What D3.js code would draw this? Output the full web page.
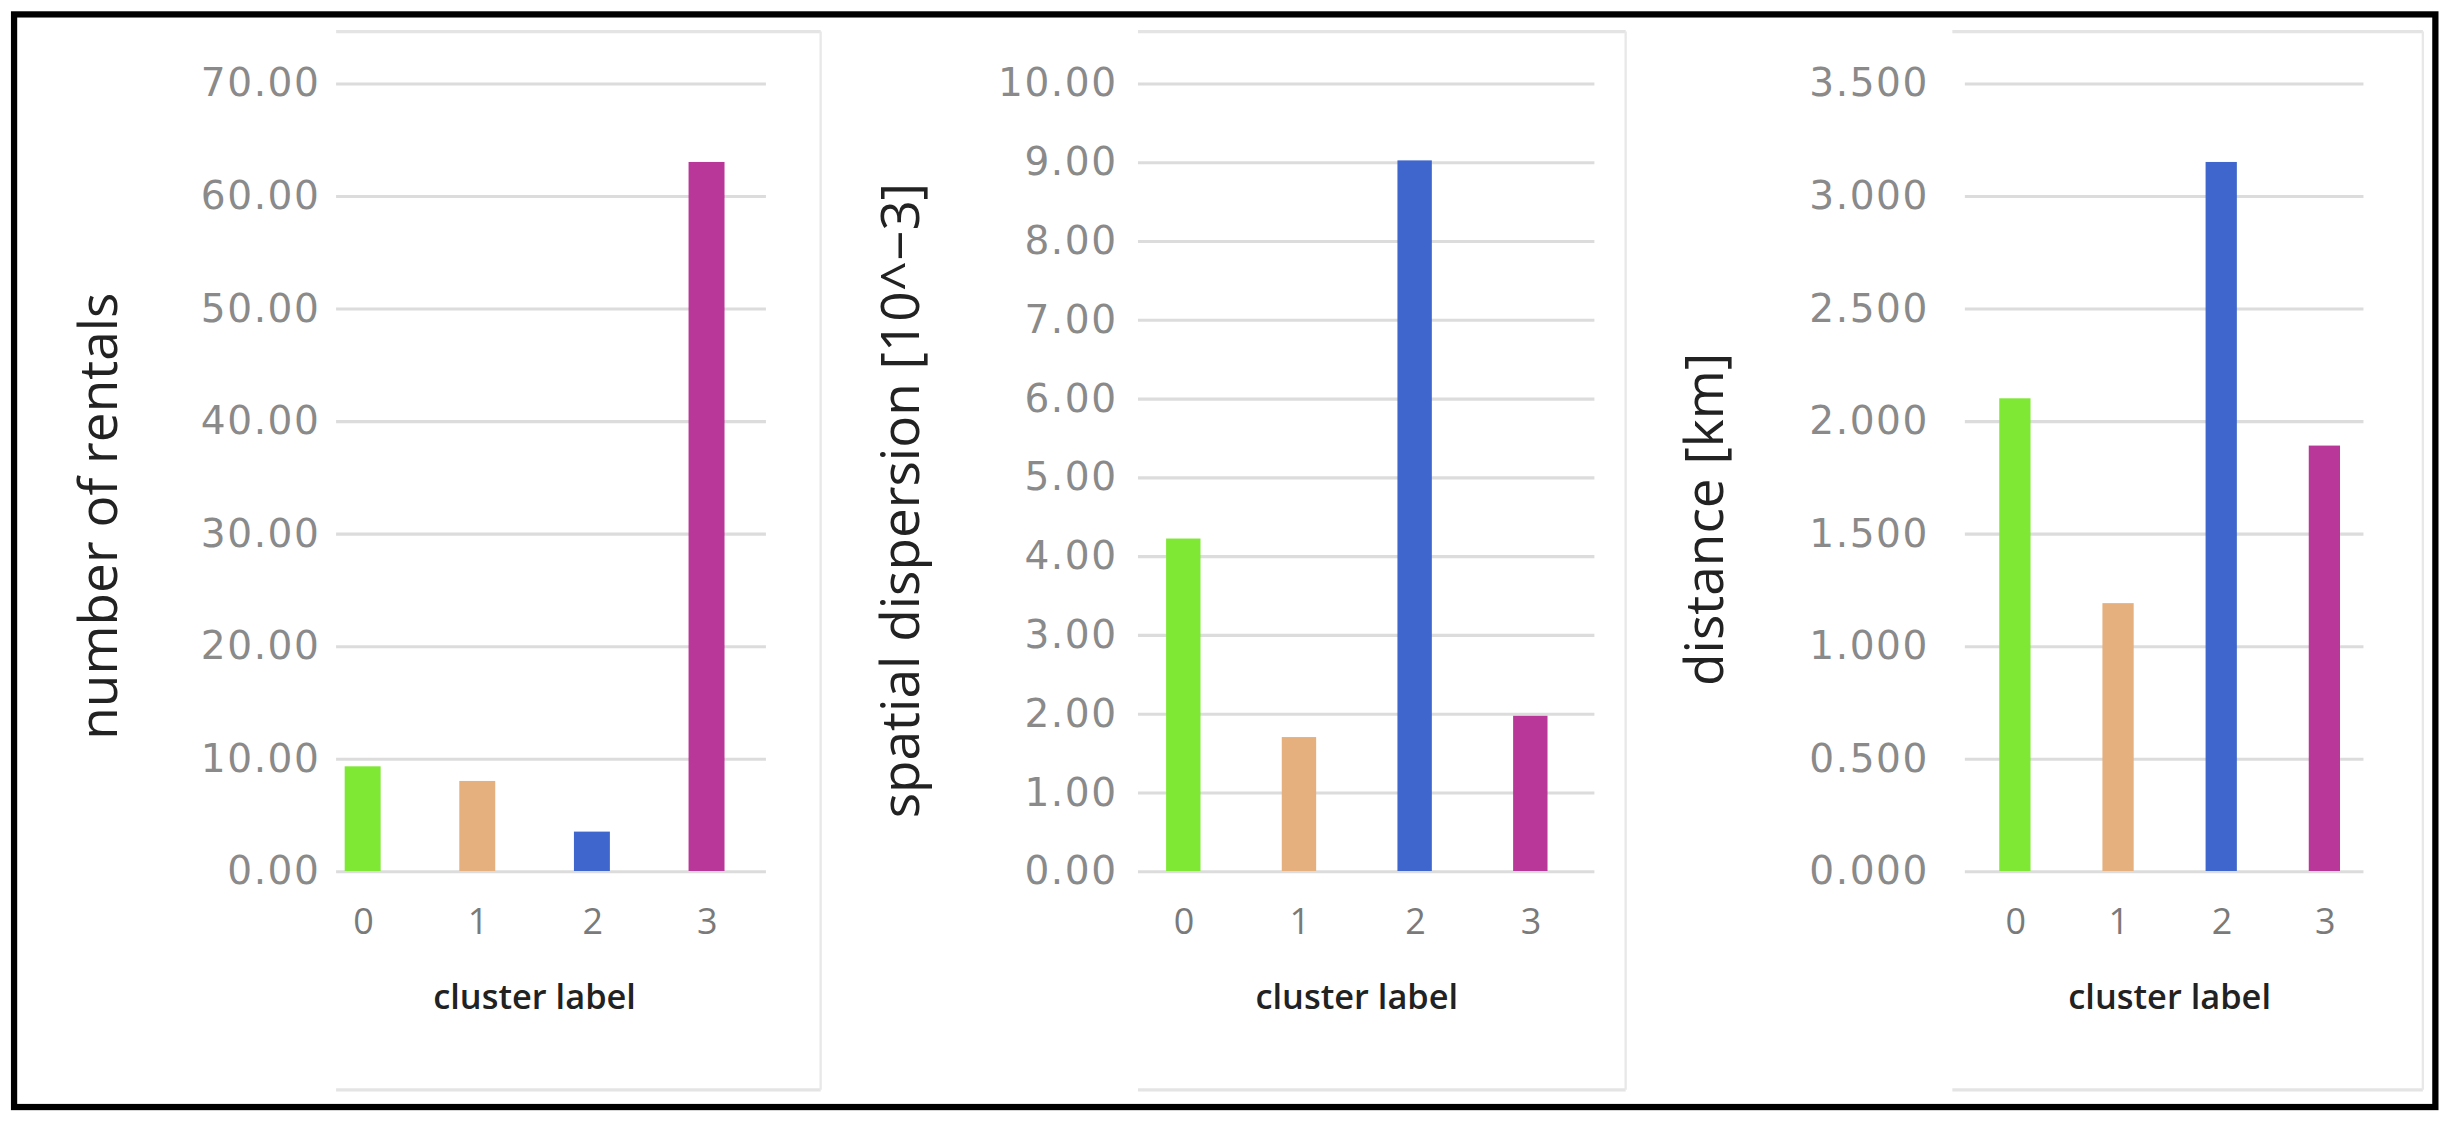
<!DOCTYPE html>
<html><head><meta charset="utf-8">
<script src="https://cdn.jsdelivr.net/npm/d3@7"></script>
<style>
  html, body { margin: 0; padding: 0; background: #fff; }
  svg { display: block; }
</style></head>
<body>
<svg id="chart"></svg>
<script>
// ─── Data ───────────────────────────────────────────────────────────
const clusters = ["0", "1", "2", "3"];
const barColors = ["#7fe835", "#e5b07d", "#3f66cc", "#b93799"];

const rentals = [9.3, 8.0, 3.5, 63.0];
const dispersion = [4.22, 1.70, 9.02, 1.97];
const distance = [2.10, 1.19, 3.15, 1.89];

const rentalTicks = [0, 10, 20, 30, 40, 50, 60, 70];
const dispersionTicks = [0, 1, 2, 3, 4, 5, 6, 7, 8, 9, 10];
const distanceTicks = [0, 0.5, 1, 1.5, 2, 2.5, 3, 3.5];

// layout in a 1568x718 viewBox, scaled to the window
const W = 1568, H = 718;
const svg = d3.select("#chart")
  .attr("width", 2451).attr("height", 1123)
  .attr("viewBox", `0 0 ${W} ${H}`);

svg.append("rect").attr("x", 9).attr("y", 9).attr("width", 1549).attr("height", 699)
  .attr("fill", "#fff").attr("stroke", "#000").attr("stroke-width", 4);

const panels = [
  { values: rentals, ticks: rentalTicks, fmt: d3.format(".2f"), label: "number of rentals",
    frame: [215, 525], grid: [215, 490], bars: [232, 452], bw: 23, labelX: 75, labelY: 330, tickX: 205 },
  { values: dispersion, ticks: dispersionTicks, fmt: d3.format(".2f"), label: "spatial dispersion [10^\u22123]",
    frame: [728, 1040], grid: [728, 1020], bars: [757, 979], bw: 22, labelX: 588, labelY: 320, tickX: 715 },
  { values: distance, ticks: distanceTicks, fmt: d3.format(".3f"), label: "distance [km]",
    frame: [1249, 1550], grid: [1257, 1512], bars: [1289, 1487], bw: 20, labelX: 1102, labelY: 332, tickX: 1234 }
];

panels.forEach(p => {
  const g = svg.append("g");
  const y = d3.scaleLinear()
    .domain([0, d3.max(p.ticks)])
    .range([557, 53]);
  const x = d3.scalePoint().domain(clusters).range(p.bars);

  // light frame lines
  g.append("line").attr("x1", p.frame[0]).attr("x2", p.frame[1]).attr("y1", 20).attr("y2", 20)
    .attr("stroke", "#e4e4e4").attr("stroke-width", 2);
  g.append("line").attr("x1", p.frame[0]).attr("x2", p.frame[1]).attr("y1", 697).attr("y2", 697)
    .attr("stroke", "#e4e4e4").attr("stroke-width", 2);
  g.append("line").attr("x1", p.frame[1]).attr("x2", p.frame[1]).attr("y1", 20).attr("y2", 697)
    .attr("stroke", "#e8e8e8").attr("stroke-width", 1.5);

  // y axis: gridlines + labels
  const yAxis = d3.axisLeft(y).tickValues(p.ticks).tickFormat(p.fmt)
    .tickSize(-(p.grid[1] - p.grid[0])).tickPadding(p.grid[0] - p.tickX);
  const ya = g.append("g").attr("transform", `translate(${p.grid[0]},0)`).call(yAxis);
  ya.select(".domain").remove();
  ya.selectAll(".tick line").attr("stroke", "#dcdcdc").attr("stroke-width", 2);
  ya.selectAll(".tick text").attr("fill", "#8a8a8a")
    .style("font-family", "DejaVu Sans").style("font-size", "25px").style("letter-spacing", "1px");

  // bars
  g.selectAll("rect.bar").data(p.values).join("rect")
    .attr("class", "bar")
    .attr("x", (d, i) => x(clusters[i]) - p.bw / 2)
    .attr("width", p.bw)
    .attr("y", d => y(d))
    .attr("height", d => y(0) - y(d))
    .attr("fill", (d, i) => barColors[i]);

  // x axis labels
  const xa = g.append("g").attr("transform", `translate(0,${y(0)})`)
    .call(d3.axisBottom(x).tickSize(0).tickPadding(24));
  xa.select(".domain").remove();
  xa.selectAll(".tick text").attr("fill", "#7a7a7a")
    .style("font-family", "Open Sans").style("font-size", "23px");

  g.append("text")
    .attr("x", (p.bars[0] + p.bars[1]) / 2).attr("y", 645)
    .attr("text-anchor", "middle")
    .style("font-family", "Open Sans").style("font-size", "22px").style("font-weight", 600)
    .attr("fill", "#222")
    .text("cluster label");

  g.append("text")
    .attr("transform", `translate(${p.labelX},${p.labelY}) rotate(-90)`)
    .attr("text-anchor", "middle")
    .style("font-family", "Open Sans").style("font-size", "34px").attr("fill", "#222")
    .text(p.label);
});
</script>
</body></html>
